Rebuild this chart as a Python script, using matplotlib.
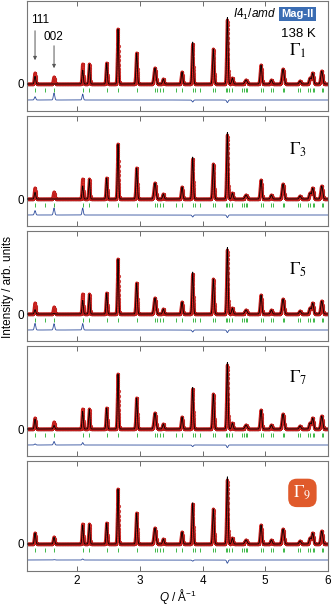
import numpy as np
import matplotlib
matplotlib.use('Agg')
import matplotlib.pyplot as plt

plt.rcParams['font.family'] = ['Liberation Sans', 'DejaVu Sans']
plt.rcParams['mathtext.fontset'] = 'custom'
plt.rcParams['mathtext.rm'] = 'Liberation Sans'
plt.rcParams['mathtext.it'] = 'Liberation Sans:italic'

# observed reflections: position (1/A), height (arb. units), width
peak_q = [1.328, 1.631, 2.088, 2.194, 2.471, 2.651, 2.949, 3.241, 3.374, 3.672, 3.842,
          4.172, 4.395, 4.475, 4.693, 4.932, 5.097, 5.283, 5.554, 5.714, 5.756, 5.900]
peak_obs = [11, 7, 20, 20, 21, 55, 31, 16, 5, 12, 40,
            35, 64, 6, 4, 19, 4, 15, 3, 6, 11, 13]
peak_width = [0.011, 0.011, 0.01, 0.01, 0.01, 0.01, 0.011, 0.016, 0.012, 0.012, 0.011,
              0.012, 0.011, 0.012, 0.018, 0.013, 0.013, 0.016, 0.014, 0.014, 0.014, 0.015]

# calc / obs ratio for the peaks that differ between models (index -> ratio)
panel_names = ['1', '3', '5', '7', '9']
calc_ratio = [
    {0: 0.7, 1: 0.0, 2: 0.7, 10: 1.05, 12: 1.04},
    {0: 0.6, 1: 0.0, 2: 0.65, 10: 1.05, 12: 1.04},
    {0: 0.4, 1: 0.1, 2: 0.68, 10: 1.05, 12: 1.04},
    {0: 0.9, 1: 0.5, 2: 0.88, 10: 1.04, 12: 1.04},
    {0: 1.0, 1: 0.95, 2: 0.95, 10: 1.03, 12: 1.05},
]

# Bragg reflection markers
hkl_q = [1.328, 1.487, 1.631, 2.088, 2.194, 2.471, 2.651, 2.949, 3.241, 3.279, 3.321, 3.374,
         3.571, 3.672, 3.842, 3.879, 3.959, 4.172, 4.198, 4.374, 4.395, 4.422, 4.475,
         4.634, 4.661, 4.693, 4.709, 4.932, 4.964, 5.097, 5.124, 5.283, 5.299, 5.528,
         5.554, 5.687, 5.714, 5.756, 5.778, 5.900, 5.915]

q = np.arange(1.2, 6.0, 0.0015)


def profile(heights):
    y = np.zeros_like(q)
    for c, h, w in zip(peak_q, heights, peak_width):
        y += h * np.exp(-0.5 * ((q - c) / w) ** 2)
    return y


obs = profile(peak_obs)

fig = plt.figure(figsize=(3.32, 6.07), dpi=100)
W, H = 332.0, 607.0
left, width = 27 / W, 301 / W

gamma_y = [0.55, 0.69, 0.645, 0.71, 0.71]

axes = []
for i, name in enumerate(panel_names):
    top = 1 + 115 * i
    ax = fig.add_axes([left, 1 - (top + 110) / H, width, 110 / H])
    axes.append(ax)

    heights = [h * calc_ratio[i].get(k, 1.0) for k, h in enumerate(peak_obs)]
    calc = profile(heights)

    ax.plot(q, obs, color='#d92a26', lw=2.2, zorder=2)
    ax.plot(q, obs, 'o', ms=2.0, mfc='#e2302b', mec='#a81616', mew=0.25, zorder=2)
    ax.plot(q, calc, color='black', lw=0.6, zorder=3)
    ax.plot(q, obs - calc - 16, color='#2d4c9c', lw=0.6)
    ax.vlines(hkl_q, -7.5, -3.5, color='#3db848', lw=0.7)

    ax.set_xlim(1.2, 6.0)
    ax.set_ylim(-27, 83)
    ax.set_xticks([2, 3, 4, 5, 6])
    ax.set_yticks([0])
    ax.tick_params(axis='x', direction='in', top=True, length=3.5, width=0.6,
                   color='#555555', labelsize=8.5, pad=3)
    ax.tick_params(axis='y', direction='in', length=3, width=0.6,
                   color='#555555', labelsize=8.5, pad=2)
    if i < 4:
        ax.tick_params(labelbottom=False)
    for s in ax.spines.values():
        s.set_color('#777777')
        s.set_linewidth(0.8)

    if i < 4:
        ax.text(0.9, gamma_y[i], r'$\Gamma_{%s}$' % name, transform=ax.transAxes,
                ha='center', va='center', fontsize=12.5, math_fontfamily='stix')
    else:
        ax.text(0.915, gamma_y[i], r'$\Gamma_{%s}$' % name, transform=ax.transAxes,
                ha='center', va='center', fontsize=12.5, math_fontfamily='stix',
                color='white',
                bbox=dict(boxstyle='round,pad=0.3,rounding_size=0.5',
                          fc='#e05a2b', ec='none'))

ax = axes[0]
ax.text(0.755, 0.88, r'$I4_{1}/amd$', transform=ax.transAxes,
        ha='center', va='center', fontsize=8.5)
ax.text(0.9, 0.88, 'Mag-II', transform=ax.transAxes, ha='center', va='center',
        fontsize=8, fontweight='bold', color='white',
        bbox=dict(boxstyle='square,pad=0.2', fc='#3b6db3', ec='none'))
ax.text(0.9, 0.70, '138 K', transform=ax.transAxes, ha='center', va='center',
        fontsize=9.5)

arrow = dict(arrowstyle='-|>', color='#555555', lw=0.7, mutation_scale=5)
ax.annotate('', xy=(1.328, 21), xytext=(1.328, 56), arrowprops=arrow)
ax.text(1.41, 64, '111', ha='center', va='center', fontsize=8.5)
ax.annotate('', xy=(1.631, 13), xytext=(1.631, 41), arrowprops=arrow)
ax.text(1.615, 47, '002', ha='center', va='center', fontsize=8.5)

fig.text(0.025, 0.527, 'Intensity / arb. units', rotation=90,
         ha='center', va='center', fontsize=8.5)
fig.text(0.535, 0.017, r'$Q$ / $\mathrm{\AA}^{-1}$', ha='center', va='center',
         fontsize=8.5)

fig.savefig('out.png', dpi=100)
